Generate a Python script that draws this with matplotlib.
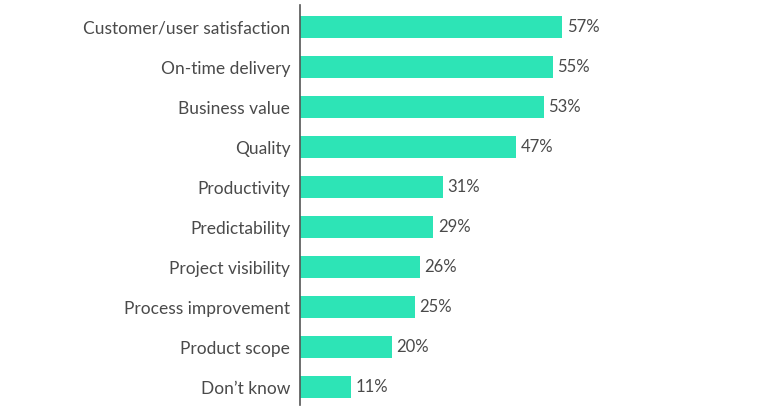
import matplotlib.pyplot as plt

categories = ["Customer/user satisfaction", "On-time delivery", "Business value",
              "Quality", "Productivity", "Predictability", "Project visibility",
              "Process improvement", "Product scope", "Don\u2019t know"]
values = [57, 55, 53, 47, 31, 29, 26, 25, 20, 11]

plt.rcParams['font.family'] = ['Lato', 'DejaVu Sans']

fig = plt.figure(figsize=(7.62, 4.2), dpi=100)
ax = fig.add_axes([300 / 762, 15 / 420, 437 / 762, 400 / 420])

ypos = list(range(len(categories)))
bars = ax.barh(ypos, values, height=0.55, color='#2de4b6')
for y, v in zip(ypos, values):
    ax.text(v + 1.0, y, f"{v}%", va='center', ha='left', fontsize=12,
            color='#4a4a4a')

ax.set_yticks(ypos)
ax.set_yticklabels(categories, fontsize=12.5, color='#4a4a4a')
ax.tick_params(axis='y', length=0, pad=7)
ax.set_xticks([])
ax.set_xlim(0, 95)
ax.set_ylim(9.45, -0.55)
for s in ['top', 'right', 'bottom']:
    ax.spines[s].set_visible(False)
ax.spines['left'].set_color('#555555')
ax.spines['left'].set_linewidth(1.2)

fig.savefig('out.png', dpi=100)
